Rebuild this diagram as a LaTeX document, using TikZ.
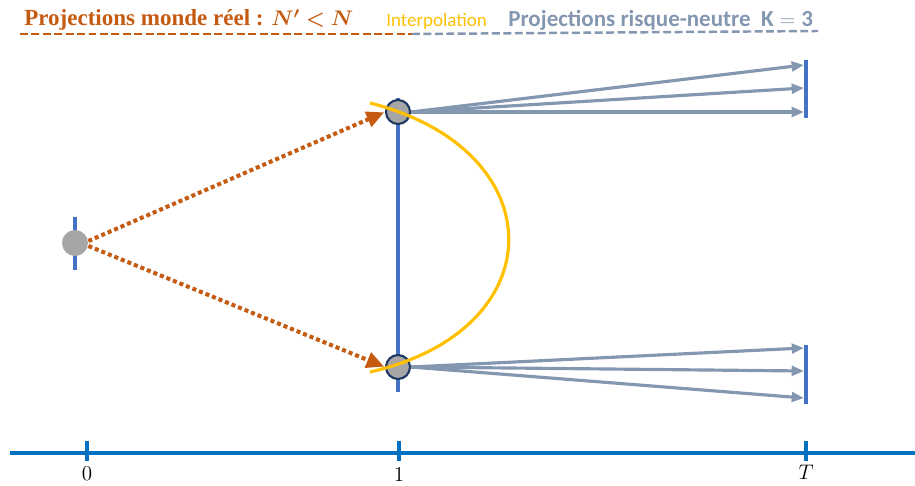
\documentclass[tikz,border=0pt]{standalone}
\usepackage{amsmath,bm}
\usepackage{fontspec}
\setmainfont{Carlito}
\newfontfamily\lmr{Latin Modern Roman}
\newfontfamily\tser{Liberation Serif}
\usetikzlibrary{arrows.meta}
\definecolor{orng}{HTML}{C55A11}
\definecolor{yell}{HTML}{FFC000}
\definecolor{gblue}{HTML}{8497B0}
\definecolor{vblue}{HTML}{4472C4}
\definecolor{ablue}{HTML}{0070C0}
\definecolor{cfill}{HTML}{A6A6A6}
\definecolor{navy}{HTML}{1F3864}
\newlength{\px}\setlength{\px}{0.02cm}
\tikzset{
  dot/.style={circle, fill=cfill, minimum size=26\px, inner sep=0pt},
  dotb/.style={dot, draw=navy, line width=1.2pt, minimum size=24\px},
  realarrow/.style={orng, line width=2.3pt, dash pattern=on 2.3pt off 1.7pt, -{Triangle[length=10pt,width=9pt]}, shorten >=0.5pt},
  rnarrow/.style={gblue, line width=1.8pt, -{Triangle[length=7pt,width=5.5pt]}},
  vbar/.style={vblue, line width=2.2pt},
  tick/.style={ablue, line width=2pt},
  ttl/.style={anchor=west, inner sep=0pt},
  axlbl/.style={font=\fontsize{12}{14}\selectfont\lmr, inner sep=0pt}
}
\begin{document}
\begin{tikzpicture}[x=0.02cm, y=-0.02cm]
\useasboundingbox (0,0) rectangle (915,486);
% titles
\node[ttl, text=orng, font=\fontsize{13.1}{15}\selectfont\tser\bfseries] (t1) at (24,20) {Projections monde réel : $\bm{N'<N}$};
\node[ttl, font=\fontsize{10.8}{12}\selectfont, text=yell] (t2) at (386,21) {Interpolation};
\node[ttl, text=gblue, font=\fontsize{13.1}{15}\selectfont\bfseries] (t3) at (508,20) {Projections risque-neutre \ $\mathbf{K=3}$};
\coordinate (d0) at (20,34);
\coordinate (d1) at (412,34);
\coordinate (d2) at (818,31);
\draw[orng, line width=1.4pt, dash pattern=on 4.5pt off 2pt] (d0) -- (d1);
\draw[gblue, line width=1.4pt, dash pattern=on 4.5pt off 2pt] (d1) -- (d2);
% vertical lines
\coordinate (v0a) at (75,217); \coordinate (v0b) at (75,270);
\draw[vbar] (v0a) -- (v0b);
\coordinate (v1a) at (398,98); \coordinate (v1b) at (398,392);
\draw[vbar, line width=2.6pt] (v1a) -- (v1b);
\coordinate (bu1) at (806,60); \coordinate (bu2) at (806,118);
\draw[vbar, line width=2.6pt] (bu1) -- (bu2);
\coordinate (bd1) at (806,345); \coordinate (bd2) at (806,404);
\draw[vbar, line width=2.6pt] (bd1) -- (bd2);
% points
\node[dot] (p0) at (75,243) {};
\node[dotb] (pu) at (398,112) {};
\node[dotb] (pd) at (398,367) {};
% risk-neutral arrows
\coordinate (eu1) at (804,65);
\coordinate (eu2) at (804,88);
\coordinate (eu3) at (804,112);
\coordinate (ed1) at (804,348);
\coordinate (ed2) at (804,371);
\coordinate (ed3) at (804,398);
\foreach \e in {eu1,eu2,eu3} \draw[rnarrow] (pu.east) -- (\e);
\foreach \e in {ed1,ed2,ed3} \draw[rnarrow] (pd.east) -- (\e);
% interpolation curve
\coordinate (i0) at (370,103);
\coordinate (i1) at (370,372);
\draw[yell, line width=1.8pt] (i0) .. controls (555,150) and (555,330) .. (i1);
% real-world arrows
\draw[realarrow] (p0.east) ++(0,-2) -- (pu.west);
\draw[realarrow] (p0.east) ++(0,3) -- (pd.west);
% axis
\coordinate (a0) at (10,453); \coordinate (a1) at (915,453);
\draw[ablue, line width=2.4pt] (a0) -- (a1);
\foreach \x/\n in {87/k0, 399/k1, 806/kT} {
  \coordinate (\n a) at (\x,441); \coordinate (\n b) at (\x,461);
  \draw[tick] (\n a) -- (\n b);
}
\node[axlbl] (l0) at (87,474) {0};
\node[axlbl] (l1) at (399,474) {1};
\node[axlbl] (lT) at (806,472) {$T$};
\end{tikzpicture}
\end{document}
